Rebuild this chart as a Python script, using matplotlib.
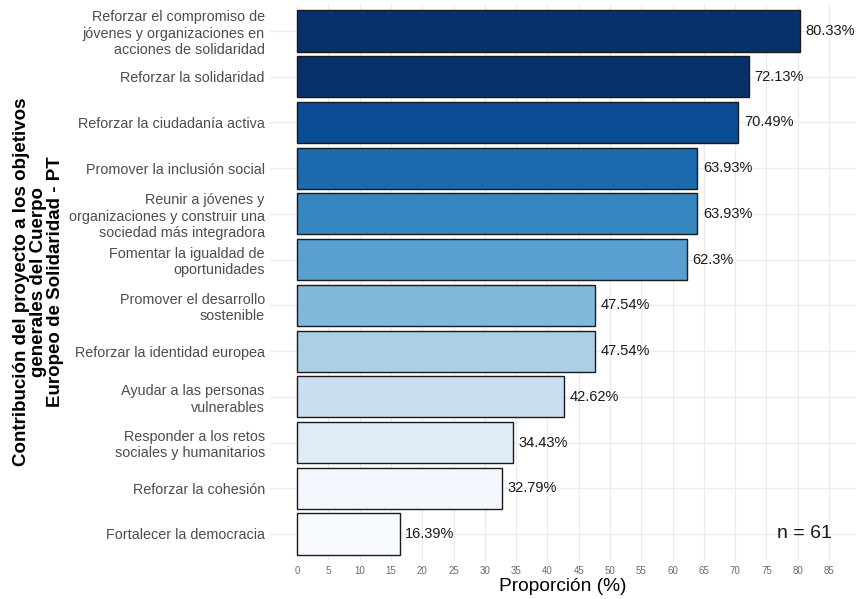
import matplotlib
matplotlib.use("Agg")
import matplotlib.pyplot as plt

categories = [
    "Reforzar el compromiso de\njóvenes y organizaciones en\nacciones de solidaridad",
    "Reforzar la solidaridad",
    "Reforzar la ciudadanía activa",
    "Promover la inclusión social",
    "Reunir a jóvenes y\norganizaciones y construir una\nsociedad más integradora",
    "Fomentar la igualdad de\noportunidades",
    "Promover el desarrollo\nsostenible",
    "Reforzar la identidad europea",
    "Ayudar a las personas\nvulnerables",
    "Responder a los retos\nsociales y humanitarios",
    "Reforzar la cohesión",
    "Fortalecer la democracia",
]
values = [80.33, 72.13, 70.49, 63.93, 63.93, 62.3, 47.54, 47.54, 42.62, 34.43, 32.79, 16.39]
colors = ["#08306B", "#08306B", "#0A4D95", "#1C69AE", "#3686C0", "#58A0CF",
          "#80B8DB", "#ABD0E6", "#CADEF0", "#DFEBF7", "#F3F8FE", "#F7FBFF"]
x_ticks = list(range(0, 90, 5))
n_label = "n = 61"

plt.rcParams['font.family'] = ['Liberation Sans', 'DejaVu Sans']

fig = plt.figure(figsize=(8.56, 5.99), dpi=100)
ax = fig.add_axes([270.4 / 856, 1 - 561.4 / 599, (855.7 - 270.4) / 856, (561.4 - 3.6) / 599])

n = len(categories)
ypos = list(range(n - 1, -1, -1))
ax.barh(ypos, values, height=0.9, color=colors, edgecolor="#1a1a1a", linewidth=1.0, zorder=3)
for y, v in zip(ypos, values):
    ax.annotate(f"{v:g}%", (v, y), xytext=(4, 0), textcoords="offset points",
                va="center", ha="left", fontsize=10.5, color="#1a1a1a", zorder=4)

ax.set_xlim(-4.25, 89.25)
ax.set_ylim(-0.6, n - 0.4)
ax.set_xticks(x_ticks)
ax.set_xticklabels([str(t) for t in x_ticks], fontsize=7, color="#6b6b6b")
ax.set_yticks(ypos)
ax.set_yticklabels(categories, fontsize=10.4, color="#4D4D4D", linespacing=1.2, ha="right")
ax.tick_params(axis="both", length=0, pad=3)
ax.tick_params(axis="y", pad=4)
ax.grid(True, color="#EBEBEB", linewidth=0.9, zorder=0)
for s in ax.spines.values():
    s.set_visible(False)

ax.set_xlabel("Proporción (%)", fontsize=13.8, labelpad=2)
fig.text(0.045, 0.53, "Contribución del proyecto a los objetivos\ngenerales del Cuerpo\nEuropeo de Solidaridad - PT",
         rotation=90, ha="center", va="center", fontsize=13.5, fontweight="bold", linespacing=1.0)

ax.text(81.0, 0, n_label, ha="center", va="center", fontsize=14, color="#1a1a1a")

fig.savefig("out.png", dpi=100)
